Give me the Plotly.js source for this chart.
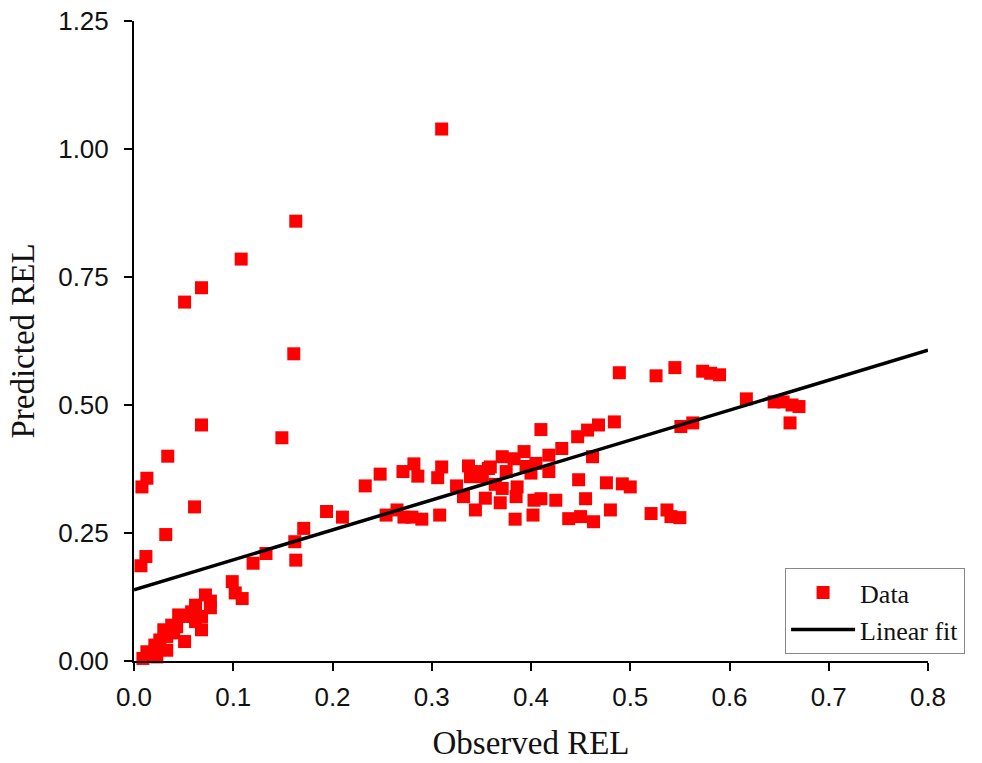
<!DOCTYPE html>
<html><head><meta charset="utf-8">
<script src="https://cdn.plot.ly/plotly-3.0.1.min.js"></script>
<style>html,body{margin:0;padding:0;background:#fff}</style>
</head><body><div id="chart" style="width:982px;height:763px"></div>
<script>
const observed = [
0.310,0.163,0.108,0.068,0.051,0.161,0.068,0.149,0.034,0.013,0.008,0.061,0.032,0.012,0.007,
0.072,0.077,0.062,0.068,0.068,0.062,0.051,0.045,0.051,0.038,0.030,0.033,0.026,0.021,0.033,0.013,0.009,0.023,0.043,0.058,0.077,0.040,0.017,
0.099,0.102,0.109,0.120,0.133,0.163,0.162,0.171,0.194,0.210,
0.233,0.248,0.254,0.265,0.271,0.272,0.280,0.282,0.286,0.290,0.308,0.310,0.306,0.325,0.332,0.337,0.339,0.344,0.351,0.354,0.357,0.359,0.371,0.371,0.369,0.383,0.386,0.385,0.384,0.393,0.400,0.405,0.403,0.402,0.410,0.418,0.418,0.425,0.431,0.448,0.447,0.457,0.468,0.484,0.462,0.455,0.438,0.450,0.463,0.476,0.480,0.492,0.500,0.410,0.489,
0.345,0.395,0.364,0.375,
0.526,0.545,0.573,0.581,0.590,0.617,0.645,0.654,0.663,0.670,0.661,0.551,0.563,0.521,0.537,0.541,0.550
];
const predicted = [
1.039,0.859,0.785,0.729,0.701,0.600,0.461,0.436,0.400,0.357,0.340,0.301,0.247,0.204,0.186,
0.129,0.104,0.109,0.087,0.061,0.077,0.087,0.090,0.038,0.070,0.061,0.048,0.041,0.031,0.021,0.018,0.005,0.008,0.067,0.096,0.117,0.055,0.010,
0.155,0.133,0.122,0.191,0.210,0.197,0.233,0.259,0.292,0.281,
0.342,0.365,0.285,0.295,0.370,0.281,0.281,0.385,0.361,0.277,0.285,0.379,0.358,0.342,0.321,0.381,0.360,0.295,0.360,0.318,0.376,0.379,0.399,0.337,0.309,0.395,0.340,0.321,0.277,0.409,0.367,0.386,0.314,0.285,0.317,0.402,0.370,0.314,0.415,0.354,0.438,0.451,0.461,0.467,0.399,0.317,0.278,0.282,0.272,0.348,0.295,0.346,0.340,0.452,0.563,
0.370,0.380,0.345,0.370,
0.557,0.573,0.566,0.562,0.559,0.512,0.506,0.506,0.500,0.497,0.465,0.458,0.465,0.288,0.295,0.282,0.280
];
const fitX = [0, 0.8];
const fitY = [0.139, 0.607];
const xTicks = [0,0.1,0.2,0.3,0.4,0.5,0.6,0.7,0.8];
const yTicks = [0,0.25,0.5,0.75,1.0,1.25];

const traces = [
  {x: observed, y: predicted, type:'scatter', mode:'markers', name:'Data',
   marker:{symbol:'square', size:13, color:'#ff0000', line:{width:0}}, cliponaxis:false},
  {x: fitX, y: fitY, type:'scatter', mode:'lines', name:'Linear fit',
   line:{color:'#000', width:3.5}}
];
const axisCommon = {showline:true, linecolor:'#000', linewidth:2, ticks:'outside', ticklen:8, tickwidth:2, tickcolor:'#000',
  showgrid:false, zeroline:false, tickfont:{family:'Liberation Sans, Arial', size:26, color:'#111'}};
const titleFont = {family:'Liberation Serif, Times New Roman', size:33, color:'#111'};
const layout = {
  width:982, height:763,
  margin:{l:134, r:54, t:21, b:102, autoexpand:false},
  paper_bgcolor:'#fff', plot_bgcolor:'#fff',
  showlegend:true,
  xaxis:Object.assign({}, axisCommon, {range:[0,0.8], tickvals:xTicks, tickformat:'.1f', ticklabelstandoff:4,
    title:{text:'Observed REL', font:titleFont, standoff:20}}),
  yaxis:Object.assign({}, axisCommon, {range:[0,1.25], tickvals:yTicks, tickformat:'.2f', ticklabelstandoff:10,
    title:{text:'Predicted REL', font:titleFont, standoff:14}}),
  legend:{x:0.82, y:0.145, xanchor:'left', yanchor:'top', bgcolor:'#fff', bordercolor:'#888', borderwidth:1,
    font:{family:'Liberation Serif, Times New Roman', size:26, color:'#111'}, itemwidth:64, tracegroupgap:0}
};
Plotly.newPlot('chart', traces, layout, {displayModeBar:false, staticPlot:true});
</script></body></html>
